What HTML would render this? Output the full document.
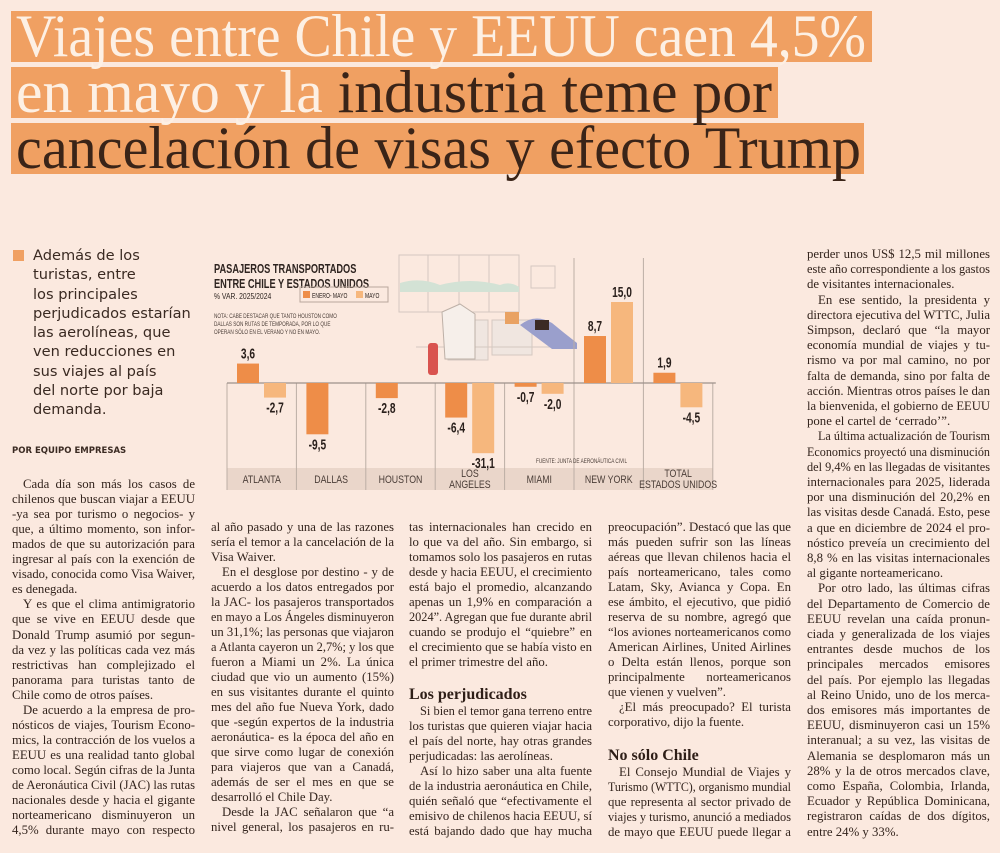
<!DOCTYPE html>
<html><head><meta charset="utf-8">
<style>
html,body{margin:0;padding:0;}
body{width:1000px;height:853px;background:#fbe9df;position:relative;overflow:hidden;font-family:"Liberation Serif",serif;color:#3a2a22;}
.hl{position:absolute;left:11px;height:51px;background:#f0a062;}
.hlt{position:absolute;left:16px;font-family:"Liberation Serif",serif;font-size:60px;line-height:51px;white-space:nowrap;transform-origin:0 0;}
.cr{color:#fdf0e4;}
.dk{color:#3a2418;}
.ln{position:absolute;font-size:12.8px;line-height:15px;white-space:nowrap;text-align:justify;text-align-last:justify;color:#33241d;transform-origin:0 0;}
.ln.last{text-align-last:left;}
.hd{position:absolute;font-weight:bold;font-size:16px;color:#2e1e17;white-space:nowrap;}
#lead{position:absolute;left:33px;top:246px;font-family:"DejaVu Sans",sans-serif;font-size:14.6px;line-height:19.3px;color:#3a2a22;}
</style></head>
<body>

<div class="hl" style="top:11px;width:861px"></div>
<div class="hl" style="top:67px;width:767px"></div>
<div class="hl" style="top:123px;width:853px"></div>
<div class="hlt" id="h1" data-fit="850" style="top:11px"><span class="cr">Viajes entre Chile y EEUU caen 4,5%</span></div>
<div class="hlt" id="h2" data-fit="756" style="top:67px"><span class="cr">en mayo y la </span><span class="dk">industria teme por</span></div>
<div class="hlt" id="h3" data-fit="845" style="top:123px"><span class="dk">cancelación de visas y efecto Trump</span></div>

<div style="position:absolute;left:13px;top:250px;width:11px;height:11px;background:#f0a062"></div>
<div id="lead">Además de los<br>turistas, entre<br>los principales<br>perjudicados estarían<br>las aerolíneas, que<br>ven reducciones en<br>sus viajes al país<br>del norte por baja<br>demanda.</div>
<div style="position:absolute;left:12px;top:446px;font-family:'DejaVu Sans',sans-serif;font-weight:bold;font-size:8.5px;color:#3a2a22">POR EQUIPO EMPRESAS</div>

<svg id="chart" style="position:absolute;left:0;top:0" width="1000" height="853">
  <g fill="none" stroke="#d4c8c0" stroke-width="1">
    <rect x="399" y="255" width="120" height="57"/>
    <line x1="428" y1="255" x2="428" y2="312"/><line x1="459" y1="255" x2="459" y2="312"/><line x1="489" y1="255" x2="489" y2="312"/>
    <path d="M400 283 q20 -6 40 2 q30 -8 60 0 q10 -4 19 2 v5 h-119z" fill="#d3e2d5" stroke="none"/>
    <rect x="531" y="266" width="24" height="22"/>
    <rect x="448" y="320" width="40" height="40" fill="#f0e6e0"/>
    <rect x="492" y="320" width="40" height="35" fill="#f0e6e0"/>
    <line x1="416" y1="347" x2="560" y2="347"/>
  </g>
  <rect x="428" y="343" width="10" height="32" rx="3" fill="#d9534f"/>
  <path d="M442 312 l18 -8 l15 10 v45 h-30z" fill="#f6efea" stroke="#bdb0a7"/>
  <path d="M520 325 q15 -12 32 -2 q12 10 25 20 v6 h-25z" fill="#9a9fcc"/>
  <rect x="505" y="312" width="14" height="12" fill="#e9a263"/>
  <rect x="535" y="320" width="14" height="10" fill="#3b2b25"/>
  <g id="chartg"></g>
</svg>

<div id="cols"></div>

<script>
// chart data
const categories = ["ATLANTA","DALLAS","HOUSTON","LOS|ANGELES","MIAMI","NEW YORK","TOTAL|ESTADOS UNIDOS"];
const eneroMayo = [3.6, -9.5, -2.8, -6.4, -0.7, 8.7, 1.9];
const mayo = [-2.7, null, null, -31.1, -2.0, 15.0, -4.5];
const labelsEnero = ["3,6","-9,5","-2,8","-6,4","-0,7","8,7","1,9"];
const labelsMayo = ["-2,7","","","-31,1","-2,0","15,0","-4,5"];

const NS = "http://www.w3.org/2000/svg";
const g = document.getElementById('chartg');
const x0 = 227, colW = 69.4, base = 383, k = 5.4, clipVal = 13;
function xCol(i){ return x0 + i*colW; }
function yVal(v){ const c = Math.max(v, -clipVal); return base - c*k; }
function mk(tag, attrs){ const e=document.createElementNS(NS,tag); for(const a in attrs) e.setAttribute(a, attrs[a]); g.appendChild(e); return e; }
function ntext(x,y,s,size,w,fill,anchor,sx){
  const t = mk('text',{x:0,y:0,transform:'translate('+x+','+y+') scale('+sx+',1)','text-anchor':anchor,'font-family':'"Liberation Sans",sans-serif','font-size':size,'font-weight':w,fill:fill});
  t.textContent = s;
  return t;
}

let band = mk('rect',{x:x0,y:468,width:colW*7,height:22,fill:'#ead6ca'});


for(let i=0;i<=7;i++){
  const top = (i===5||i===6) ? 258 : base;
  const l = mk('line',{x1:xCol(i),x2:xCol(i),y1:top,y2:490,stroke:'#bcaea5','stroke-width':1});
  
  
}
const bl = mk('line',{x1:x0,x2:x0+colW*7+3,y1:base,y2:base,stroke:'#9d918a','stroke-width':1.2});



function bar(i, v, off, color, lab, name){
  if(v===null) return;
  const y = yVal(v), top = Math.min(y, base), h = Math.abs(y-base);
  const r = mk('rect',{x:xCol(i)+off,y:top,width:22,height:h,fill:color});
  
  
  const ty = v>=0 ? top-5 : top+h+15;
  const t = ntext(xCol(i)+off+11, ty, lab, 15, 'bold', '#2a201c', 'middle', 0.68);
  
  
}
categories.forEach((c,i)=>{
  bar(i, eneroMayo[i], 10, '#ee8d48', labelsEnero[i], 'bar-enero-mayo');
  bar(i, mayo[i], 37, '#f6b77d', labelsMayo[i], 'bar-mayo');
  const parts = c.split('|');
  parts.forEach((p,j)=>{
    const y = parts.length===1 ? 483 : 477 + j*11;
    const t = ntext(xCol(i)+colW/2, y, p, 11, 'normal', '#4a3d37', 'middle', 0.8);
    
    
  });
});
function txt(x,y,s,size,w,name,fill,sx){
  const t = ntext(x,y,s,size,w,fill||'#2e2420','start',sx||0.78);
  
  
  return t;
}
txt(214,273,'PASAJEROS TRANSPORTADOS',12.5,'bold','chart-title-line-1',null,0.74);
txt(214,288,'ENTRE CHILE Y ESTADOS UNIDOS',12.5,'bold','chart-title-line-2',null,0.74);
txt(214,299,'% VAR. 2025/2024',8.5,'normal','chart-subtitle',null,0.8);
const lg = mk('rect',{x:300,y:287,width:88,height:15,fill:'none',stroke:'#b9a79c'});


const lg1 = mk('rect',{x:303,y:291,width:7,height:7,fill:'#ee8d48'});


txt(312,298,'ENERO- MAYO',7,'normal','legend-entry-enero-mayo',null,0.72);
const lg2 = mk('rect',{x:356,y:291,width:7,height:7,fill:'#f6b77d'});


txt(365,298,'MAYO',7,'normal','legend-entry-mayo',null,0.72);
txt(214,318,'NOTA: CABE DESTACAR QUE TANTO HOUSTON COMO',6.5,'normal','chart-note-1','#4a3d37',0.72);
txt(214,326,'DALLAS SON RUTAS DE TEMPORADA, POR LO QUE',6.5,'normal','chart-note-2','#4a3d37',0.72);
txt(214,334,'OPERAN SÓLO EN EL VERANO Y NO EN MAYO.',6.5,'normal','chart-note-3','#4a3d37',0.72);
txt(536,463,'FUENTE: JUNTA DE AERONÁUTICA CIVIL',6.5,'normal','chart-source','#4a3d37',0.72);

['h1','h2','h3'].forEach(id=>{
  const el=document.getElementById(id);
  const w=el.getBoundingClientRect().width;
  el.style.transform='scaleX('+(parseFloat(el.dataset.fit)/w)+')';
});

const cols = [
 {x:12,w:183,y:477,step:15.05,name:'column-1',lines:[
  "¶Cada día son más los casos de","chilenos que buscan viajar a EEUU","-ya sea por turismo o negocios- y","que, a último momento, son infor-","mados de que su autorización para","ingresar al país con la exención de","visado, conocida como Visa Waiver,","es denegada.|",
  "¶Y es que el clima antimigratorio","que se vive en EEUU desde que","Donald Trump asumió por segun-","da vez y las políticas cada vez más","restrictivas han complejizado el","panorama para turistas tanto de","Chile como de otros países.|",
  "¶De acuerdo a la empresa de pro-","nósticos de viajes, Tourism Econo-","mics, la contracción de los vuelos a","EEUU es una realidad tanto global","como local. Según cifras de la Junta","de Aeronáutica Civil (JAC) las rutas","nacionales desde y hacia el gigante","norteamericano disminuyeron un","4,5% durante mayo con respecto"]},
 {x:211,w:183,y:520,step:15,name:'column-2',lines:[
  "al año pasado y una de las razones","sería el temor a la cancelación de la","Visa Waiver.|",
  "¶En el desglose por destino - y de","acuerdo a los datos entregados por","la JAC- los pasajeros transportados","en mayo a Los Ángeles disminuyeron","un 31,1%; las personas que viajaron","a Atlanta cayeron un 2,7%; y los que","fueron a Miami un 2%. La única","ciudad que vio un aumento (15%)","en sus visitantes durante el quinto","mes del año fue Nueva York, dado","que -según expertos de la industria","aeronáutica- es la época del año en","que sirve como lugar de conexión","para viajeros que van a Canadá,","además de ser el mes en que se","desarrolló el Chile Day.|",
  "¶Desde la JAC señalaron que “a","nivel general, los pasajeros en ru-"]},
 {x:409,w:183,y:520,step:15,name:'column-3',lines:[
  "tas internacionales han crecido en","lo que va del año. Sin embargo, si","tomamos solo los pasajeros en rutas","desde y hacia EEUU, el crecimiento","está bajo el promedio, alcanzando","apenas un 1,9% en comparación a","2024”. Agregan que fue durante abril","cuando se produjo el “quiebre” en","el crecimiento que se había visto en","el primer trimestre del año.|",
  "#Los perjudicados@686",
  "¶Si bien el temor gana terreno entre@704","los turistas que quieren viajar hacia","el país del norte, hay otras grandes","perjudicadas: las aerolíneas.|",
  "¶Así lo hizo saber una alta fuente","de la industria aeronáutica en Chile,","quién señaló que “efectivamente el","emisivo de chilenos hacia EEUU, sí","está bajando dado que hay mucha"]},
 {x:608,w:183,y:520,step:15,name:'column-4',lines:[
  "preocupación”. Destacó que las que","más pueden sufrir son las líneas","aéreas que llevan chilenos hacia el","país norteamericano, tales como","Latam, Sky, Avianca y Copa. En","ese ámbito, el ejecutivo, que pidió","reserva de su nombre, agregó que","“los aviones norteamericanos como","American Airlines, United Airlines","o Delta están llenos, porque son","principalmente norteamericanos","que vienen y vuelven”.|",
  "¶¿El más preocupado? El turista","corporativo, dijo la fuente.|",
  "#No sólo Chile@747",
  "¶El Consejo Mundial de Viajes y@765","Turismo (WTTC), organismo mundial","que representa al sector privado de","viajes y turismo, anunció a mediados","de mayo que EEUU puede llegar a"]},
 {x:807,w:183,y:247,step:15.2,name:'column-5',lines:[
  "perder unos US$ 12,5 mil millones","este año correspondiente a los gastos","de visitantes internacionales.|",
  "¶En ese sentido, la presidenta y","directora ejecutiva del WTTC, Julia","Simpson, declaró que “la mayor","economía mundial de viajes y tu-","rismo va por mal camino, no por","falta de demanda, sino por falta de","acción. Mientras otros países le dan","la bienvenida, el gobierno de EEUU","pone el cartel de ‘cerrado’”.|",
  "¶La última actualización de Tourism","Economics proyectó una disminución","del 9,4% en las llegadas de visitantes","internacionales para 2025, liderada","por una disminución del 20,2% en","las visitas desde Canadá. Esto, pese","a que en diciembre de 2024 el pro-","nóstico preveía un crecimiento del","8,8 % en las visitas internacionales","al gigante norteamericano.|",
  "¶Por otro lado, las últimas cifras","del Departamento de Comercio de","EEUU revelan una caída pronun-","ciada y generalizada de los viajes","entrantes desde muchos de los","principales mercados emisores","del país. Por ejemplo las llegadas","al Reino Unido, uno de los merca-","dos emisores más importantes de","EEUU, disminuyeron casi un 15%","interanual; a su vez, las visitas de","Alemania se desplomaron más un","28% y la de otros mercados clave,","como España, Colombia, Irlanda,","Ecuador y República Dominicana,","registraron caídas de dos dígitos,","entre 24% y 33%.|"]}
];
const host = document.getElementById('cols');
cols.forEach(c=>{
  let y = c.y;
  c.lines.forEach(raw=>{
    let s = raw, ov = null;
    const at = s.indexOf('@');
    if(at>=0){ ov = parseFloat(s.slice(at+1)); s = s.slice(0,at); }
    if(ov!==null) y = ov;
    if(s[0]==='#'){
      const h=document.createElement('div');
      h.className='hd';
      h.style.left=c.x+'px'; h.style.top=y+'px';
      h.textContent=s.slice(1);
      
      
      host.appendChild(h);
      y += 18;
      return;
    }
    const d=document.createElement('div');
    d.className='ln';
    let ind=0;
    if(s[0]==='¶'){ ind=11; s=s.slice(1); }
    if(s.endsWith('|')){ d.classList.add('last'); s=s.slice(0,-1); }
    const w = c.w-ind;
    d.style.left=(c.x+ind)+'px'; d.style.top=y+'px'; d.style.width=w+'px';
    d.textContent=s;
    
    
    host.appendChild(d);
    // shrink lines whose natural width exceeds the column
    const probe=document.createElement('span');
    probe.textContent=s;
    d.textContent='';
    d.appendChild(probe);
    const nat=probe.getBoundingClientRect().width;
    d.textContent=s;
    if(nat>w){
      d.style.width=nat+'px';
      d.style.transform='scaleX('+(w/nat)+')';
    }
    y += c.step;
  });
});
</script>
</body></html>
